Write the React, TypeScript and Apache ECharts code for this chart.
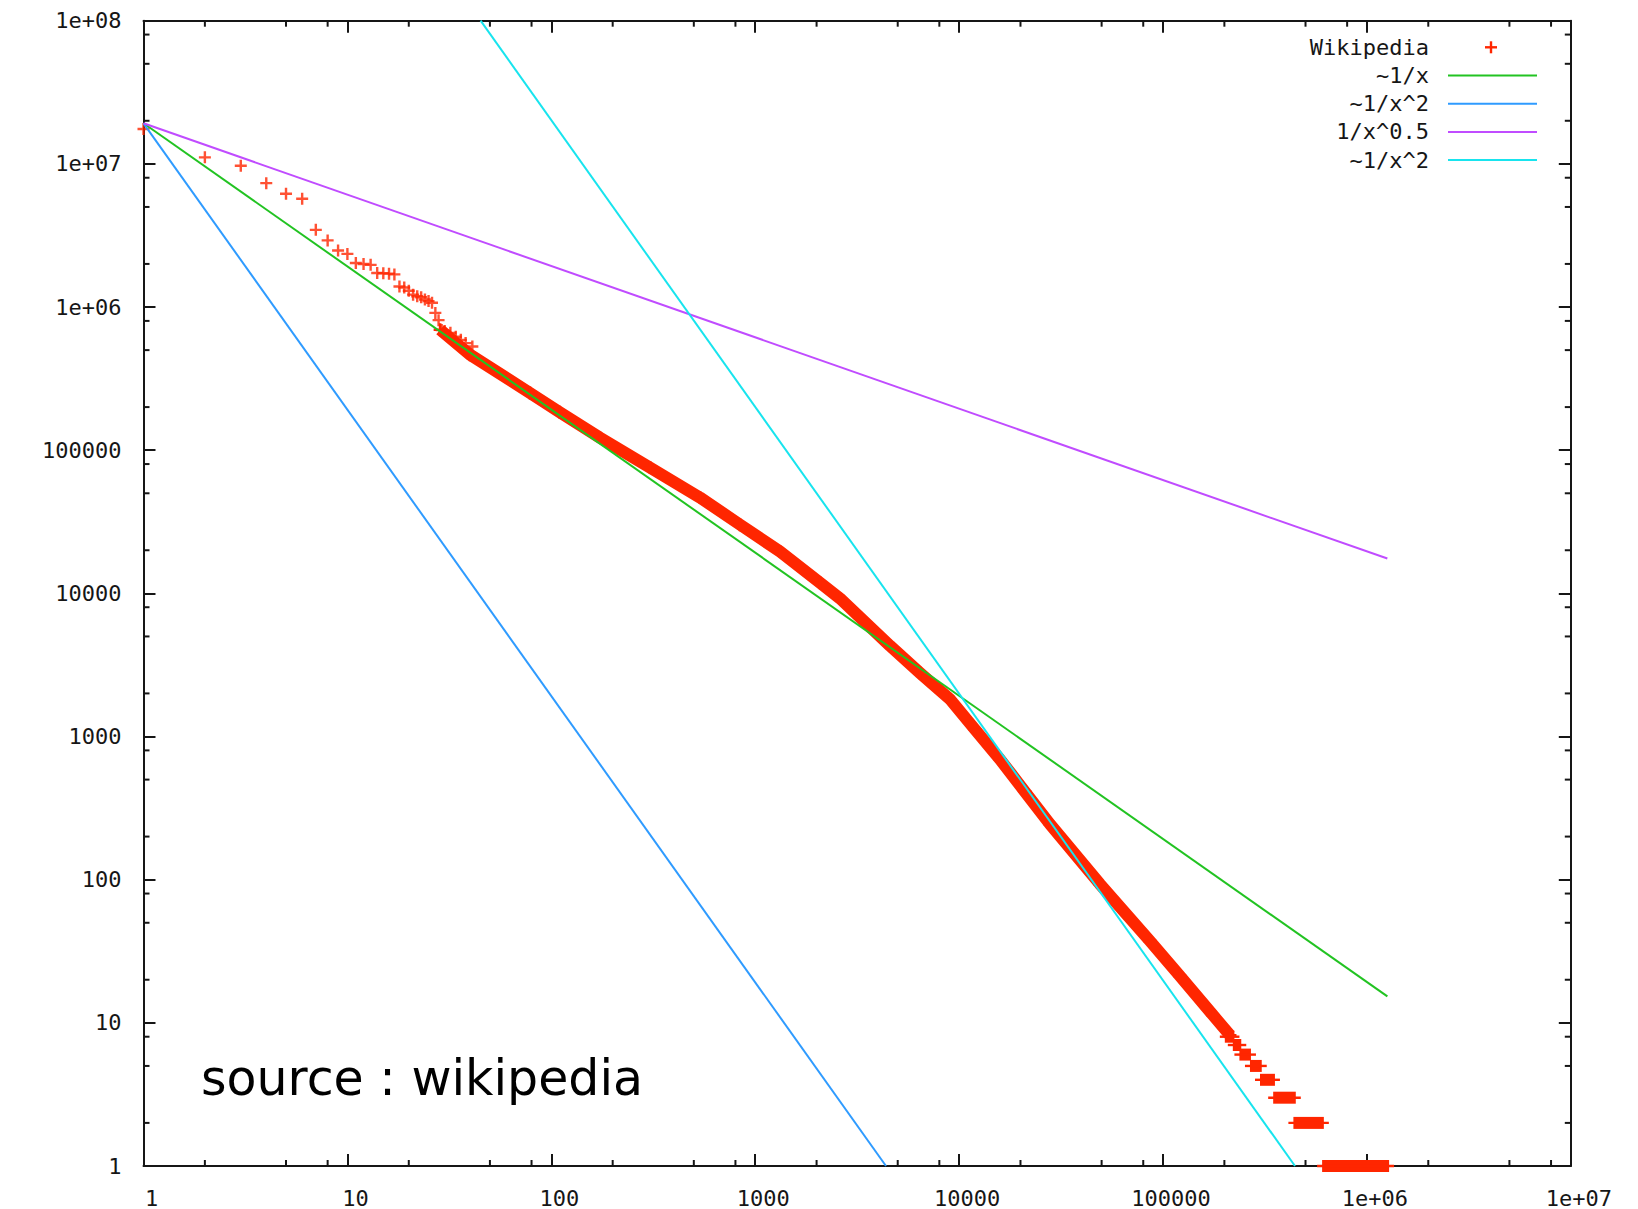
import React, { useEffect, useRef } from 'react';
import * as echarts from 'echarts';

// ---------- tick labels ----------
const X_TICK_LABELS = ['1', '10', '100', '1000', '10000', '100000', '1e+06', '1e+07'];
const Y_TICK_LABELS = ['1', '10', '100', '1000', '10000', '100000', '1e+06', '1e+07', '1e+08'];
const MINOR_TICK_MULTIPLIERS = [2, 5, 8];

// ---------- Wikipedia word frequency (rank, frequency) ----------
// individual points at the top ranks
const WIKI_SPARSE_RANK = [1, 2, 3, 4, 5, 6, 7, 8, 9, 10, 11, 12, 13, 14, 15, 16, 17, 18, 19, 20, 21, 22, 23, 24, 25, 26, 27, 28, 29, 30, 32, 34, 36, 38, 41];
const WIKI_SPARSE_FREQ = [
  1.75e7, 1.11e7, 9.7e6, 7.33e6, 6.18e6, 5.7e6, 3.46e6, 2.92e6, 2.48e6, 2.35e6,
  2.03e6, 2.0e6, 1.97e6, 1.73e6, 1.72e6, 1.71e6, 1.69e6, 1.39e6, 1.37e6, 1.3e6,
  1.22e6, 1.19e6, 1.17e6, 1.13e6, 1.1e6, 1.07e6, 9.1e5, 8.1e5, 6.9e5, 6.8e5,
  6.6e5, 6.2e5, 5.9e5, 5.6e5, 5.3e5,
];
// dense band of points (read along the centre of the band)
const WIKI_BAND_RANK = [28.5, 39.9, 78.6, 110, 173, 305, 536, 842, 1323, 2079, 2605, 4583, 6430, 9025, 11970, 15870, 21050, 27900, 49100, 86400, 121200, 175900, 213000];
const WIKI_BAND_FREQ = [6.94e5, 4.65e5, 2.51e5, 1.84e5, 1.224e5, 7.56e4, 4.67e4, 3.02e4, 1.96e4, 1.188e4, 9.21e3, 4.3e3, 2.78e3, 1.82e3, 1.12e3, 693, 411, 244, 93, 37.2, 21.2, 11.3, 8.2];
// integer-frequency tail: rank range of each frequency
const WIKI_TAIL_FREQ = [8, 7, 6, 5, 4, 3, 2, 1];
const WIKI_TAIL_RANK_START = [2.01e5, 2.2e5, 2.37e5, 2.67e5, 2.99e5, 3.47e5, 4.36e5, 6.03e5];
const WIKI_TAIL_RANK_END = [2.24e5, 2.42e5, 2.7e5, 3.05e5, 3.54e5, 4.48e5, 6.15e5, 1.285e6];

// ---------- reference power laws (end points on the log-log plot) ----------
const FIT_NAMES = ['~1/x', '~1/x^2', '1/x^0.5', '~1/x^2'];
const FIT_X = [[1, 1.26e6], [1, 4380], [1, 1.26e6], [45, 4.44e5]];
const FIT_Y = [[1.92e7, 15.3], [1.92e7, 1], [1.92e7, 1.75e4], [1e8, 1]];

const WIKI_NAME = 'Wikipedia';
const RED = '#ff2600';
const FIT_COLORS = ['#22c322', '#2f9bff', '#c04cff', '#18e4ee'];
const INK = '#161616';
const MONO = "'DejaVu Sans Mono', 'Liberation Mono', monospace";

const PLUS_PATH = 'path://M4,0h2v4h4v2h-4v4h-2v-4h-4v-2h4z';

export default function App() {
  const ref = useRef<HTMLDivElement>(null);

  useEffect(() => {
    if (!ref.current) return;
    const chart = echarts.init(ref.current, null, { renderer: 'svg' });

    const xMinor: number[][] = [];
    for (let d = 0; d < X_TICK_LABELS.length - 1; d++) {
      MINOR_TICK_MULTIPLIERS.forEach((m) => xMinor.push([m * Math.pow(10, d), 1]));
    }
    const yMinor: number[][] = [];
    for (let d = 0; d < Y_TICK_LABELS.length - 1; d++) {
      MINOR_TICK_MULTIPLIERS.forEach((m) => yMinor.push([1, m * Math.pow(10, d)]));
    }

    const sparse = WIKI_SPARSE_RANK.map((r, i) => [r, WIKI_SPARSE_FREQ[i]]);
    const band = WIKI_BAND_RANK.map((r, i) => [r, WIKI_BAND_FREQ[i]]);
    const tail = WIKI_TAIL_FREQ.map((f, i) => [WIKI_TAIL_RANK_START[i], WIKI_TAIL_RANK_END[i], f]);

    const axisCommon = {
      type: 'log' as const,
      logBase: 10,
      splitNumber: 10,
      splitLine: { show: false },
      minorTick: { show: false },
      axisLine: { show: true, onZero: false, lineStyle: { color: INK, width: 2 } },
      axisTick: { show: true, inside: true, length: 12, lineStyle: { color: INK, width: 2 } },
    };

    const xLabel = {
      show: true,
      margin: 21,
      padding: [0, 0, 0, 16],
      fontFamily: MONO,
      fontSize: 22,
      color: INK,
      showMinLabel: true,
      showMaxLabel: true,
      formatter: (v: number) => X_TICK_LABELS[Math.round(Math.log10(v))],
    };
    const yLabel = {
      show: true,
      margin: 22,
      fontFamily: MONO,
      fontSize: 22,
      color: INK,
      showMinLabel: true,
      showMaxLabel: true,
      formatter: (v: number) => Y_TICK_LABELS[Math.round(Math.log10(v))],
    };

    const tickStyle = { stroke: INK, lineWidth: 2 };

    const fitSeries = FIT_NAMES.map((name, i) => ({
      id: 'fit' + i,
      name,
      type: 'line',
      data: FIT_X[i].map((x, j) => [x, FIT_Y[i][j]]),
      showSymbol: false,
      symbol: 'none',
      lineStyle: { color: FIT_COLORS[i], width: 2 },
      itemStyle: { color: FIT_COLORS[i] },
      z: 5,
      silent: true,
    }));

    const legendTop = 47.3;
    const legendStep = 28.2;
    const legendNames = [WIKI_NAME, ...FIT_NAMES];
    const legendGraphics: any[] = [];
    legendNames.forEach((name, i) => {
      const y = legendTop + i * legendStep;
      legendGraphics.push({
        type: 'text',
        x: 1429,
        y,
        style: {
          text: name,
          fill: INK,
          font: `22px ${MONO}`,
          textAlign: 'right',
          textVerticalAlign: 'middle',
        },
      });
      if (i === 0) {
        legendGraphics.push({ type: 'rect', shape: { x: 1485, y: y - 1.2, width: 12, height: 2.4 }, style: { fill: RED } });
        legendGraphics.push({ type: 'rect', shape: { x: 1489.8, y: y - 6, width: 2.4, height: 12 }, style: { fill: RED } });
      } else {
        legendGraphics.push({
          type: 'line',
          shape: { x1: 1448, y1: y, x2: 1537, y2: y },
          style: { stroke: FIT_COLORS[i - 1], lineWidth: 2 },
        });
      }
    });
    legendGraphics.push({
      type: 'text',
      x: 201,
      y: 1078,
      style: {
        text: 'source : wikipedia',
        fill: '#000',
        font: "49px 'DejaVu Sans', sans-serif",
        textAlign: 'left',
        textVerticalAlign: 'middle',
      },
    });

    chart.setOption({
      animation: false,
      backgroundColor: '#ffffff',
      tooltip: { show: false },
      legend: { show: false },
      grid: { left: 143.5, right: 67.2, top: 20.7, bottom: 41.7, containLabel: false },
      xAxis: [
        { ...axisCommon, min: 1, max: 1e7, position: 'bottom', axisLabel: xLabel },
        { ...axisCommon, min: 1, max: 1e7, position: 'top', axisLabel: { show: false } },
      ],
      yAxis: [
        { ...axisCommon, min: 1, max: 1e8, position: 'left', axisLabel: yLabel },
        { ...axisCommon, min: 1, max: 1e8, position: 'right', axisLabel: { show: false } },
      ],
      graphic: legendGraphics,
      series: [
        {
          id: 'xminor',
          name: 'xminor',
          type: 'custom',
          silent: true,
          data: xMinor,
          encode: { x: 0, y: 1 },
          renderItem: (params: any, api: any) => {
            const p = api.coord([api.value(0), 1]);
            const cs = params.coordSys;
            return {
              type: 'group',
              children: [
                { type: 'line', shape: { x1: p[0], y1: cs.y, x2: p[0], y2: cs.y + 6 }, style: tickStyle },
                { type: 'line', shape: { x1: p[0], y1: cs.y + cs.height, x2: p[0], y2: cs.y + cs.height - 6 }, style: tickStyle },
              ],
            };
          },
          z: 1,
        },
        {
          id: 'yminor',
          name: 'yminor',
          type: 'custom',
          silent: true,
          data: yMinor,
          encode: { x: 0, y: 1 },
          renderItem: (params: any, api: any) => {
            const p = api.coord([1, api.value(1)]);
            const cs = params.coordSys;
            return {
              type: 'group',
              children: [
                { type: 'line', shape: { x1: cs.x, y1: p[1], x2: cs.x + 6, y2: p[1] }, style: tickStyle },
                { type: 'line', shape: { x1: cs.x + cs.width, y1: p[1], x2: cs.x + cs.width - 6, y2: p[1] }, style: tickStyle },
              ],
            };
          },
          z: 1,
        },
        {
          id: 'wikiBand',
          name: WIKI_NAME,
          type: 'line',
          data: band,
          smooth: false,
          showSymbol: true,
          symbol: PLUS_PATH,
          symbolSize: 13,
          itemStyle: { color: RED },
          lineStyle: { color: RED, width: 12, cap: 'butt', join: 'round' },
          z: 3,
          silent: true,
        },
        {
          id: 'wikiSparse',
          name: WIKI_NAME,
          type: 'scatter',
          data: sparse,
          symbol: PLUS_PATH,
          symbolSize: 12,
          itemStyle: { color: RED },
          z: 3,
          silent: true,
        },
        {
          id: 'wikiTail',
          name: WIKI_NAME,
          type: 'custom',
          data: tail,
          encode: { x: [0, 1], y: 2 },
          silent: true,
          z: 3,
          renderItem: (params: any, api: any) => {
            const s = api.coord([api.value(0), api.value(2)]);
            const e = api.coord([api.value(1), api.value(2)]);
            return {
              type: 'group',
              children: [
                { type: 'rect', shape: { x: s[0], y: s[1] - 6, width: e[0] - s[0], height: 12 }, style: { fill: RED } },
                { type: 'rect', shape: { x: s[0] - 5, y: s[1] - 1.2, width: e[0] - s[0] + 10, height: 2.4 }, style: { fill: RED } },
              ],
            };
          },
        },
        ...fitSeries,
      ],
    });

    return () => chart.dispose();
  }, []);

  return (
    <div
      ref={ref}
      style={{ position: 'absolute', left: 0, top: 0, width: 1638, height: 1209, background: '#fff' }}
    />
  );
}
